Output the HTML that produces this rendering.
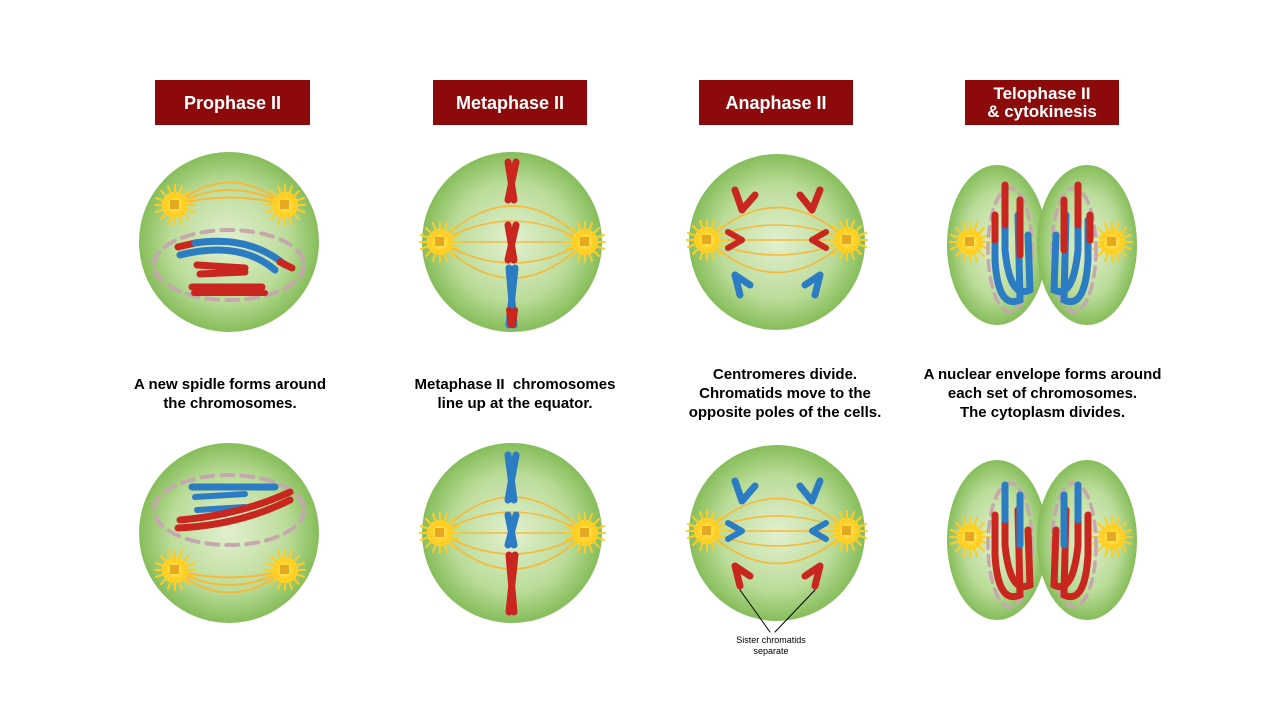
<!DOCTYPE html>
<html><head><meta charset="utf-8"><style>
html,body{margin:0;padding:0;background:#fff;width:1280px;height:720px;overflow:hidden}
.t{position:absolute;background:#8c0a0a;color:#fff;font:bold 18px "Liberation Sans",sans-serif;text-align:center;display:flex;align-items:center;justify-content:center;line-height:18px}
.c{position:absolute;font:bold 15px "Liberation Sans",sans-serif;text-align:center;color:#000;line-height:19px}
</style></head><body>
<div class="t" style="left:155px;top:80px;width:155px;height:45px">Prophase II</div>
<div class="t" style="left:433px;top:80px;width:154px;height:45px">Metaphase II</div>
<div class="t" style="left:699px;top:80px;width:154px;height:45px">Anaphase II</div>
<div class="t" style="left:965px;top:80px;width:154px;height:45px;font-size:17px">Telophase II<br>&amp; cytokinesis</div>
<div class="c" style="left:110px;top:375px;width:240px">A new spidle forms around<br>the chromosomes.</div>
<div class="c" style="left:395px;top:375px;width:240px">Metaphase II &nbsp;chromosomes<br>line up at the equator.</div>
<div class="c" style="left:670px;top:365px;width:230px">Centromeres divide.<br>Chromatids move to the<br>opposite poles of the cells.</div>
<div class="c" style="left:905px;top:365px;width:275px">A nuclear envelope forms around<br>each set of chromosomes.<br>The cytoplasm divides.</div>
<svg width="1280" height="720" style="position:absolute;left:0;top:0">
<defs>
<radialGradient id="g" cx="50%" cy="50%" r="50%"><stop offset="0" stop-color="#e2f0cf"/><stop offset="0.65" stop-color="#bcdc9a"/><stop offset="1" stop-color="#86bd5a"/></radialGradient>
<radialGradient id="s"><stop offset="0" stop-color="#fff7a0"/><stop offset="0.55" stop-color="#ffd83a"/><stop offset="1" stop-color="#ffc800" stop-opacity="0"/></radialGradient>
<g id="sun"><circle r="13" fill="#ffd430"/><g stroke="#ffcc22" stroke-width="2"><path d="M0 -20V20M-20 0H20M-14 -14L14 14M-14 14L14 -14M-7 -19L7 19M-19 -7L19 7M-19 7L19 -7M-7 19L7 -19"/></g><circle r="12" fill="url(#s)"/><rect x="-5" y="-5" width="9" height="9" fill="#e6a820"/></g>
</defs>
<g fill="none" stroke-linecap="round">
<circle cx="229" cy="242" r="90" fill="url(#g)"/>
<g stroke="#f6b93a" stroke-width="2"><path d="M175 205 Q229 160 285 205"/><path d="M175 205 Q229 175 285 205"/><path d="M175 205 Q229 190 285 205"/></g>
<use href="#sun" x="175" y="205"/><use href="#sun" x="285" y="205"/>
<g stroke="#c4a8ae" stroke-width="4" stroke-dasharray="12 8"><ellipse cx="229" cy="265" rx="75" ry="35"/></g>
<path d="M178 247 L195 243" stroke="#c8261e" stroke-width="7"/><path d="M195 243 Q250 235 285 265" stroke="#2c7cc4" stroke-width="7"/><path d="M280 262 L292 268" stroke="#c8261e" stroke-width="7"/>
<path d="M180 255 Q240 240 275 270" stroke="#2c7cc4" stroke-width="7"/>
<path d="M197 265 L245 268" stroke="#c8261e" stroke-width="7"/><path d="M200 274 L245 272" stroke="#c8261e" stroke-width="7"/>
<path d="M192 287 L262 287" stroke="#c8261e" stroke-width="7"/><path d="M194 293 L265 293" stroke="#c8261e" stroke-width="6"/>
<circle cx="229" cy="533" r="90" fill="url(#g)"/>
<g stroke="#f6b93a" stroke-width="2"><path d="M175 570 Q229 615 285 570"/><path d="M175 570 Q229 600 285 570"/><path d="M175 570 Q229 585 285 570"/></g>
<use href="#sun" x="175" y="570"/><use href="#sun" x="285" y="570"/>
<g stroke="#c4a8ae" stroke-width="4" stroke-dasharray="12 8"><ellipse cx="229" cy="510" rx="75" ry="35"/></g>
<path d="M192 487 L275 487" stroke="#2c7cc4" stroke-width="7"/><path d="M195 497 L245 494" stroke="#2c7cc4" stroke-width="6"/>
<path d="M197 510 L245 507" stroke="#2c7cc4" stroke-width="6"/>
<path d="M178 528 Q240 525 290 500" stroke="#c8261e" stroke-width="7"/><path d="M180 520 Q240 515 290 492" stroke="#c8261e" stroke-width="7"/>
<g id="meta">
<circle cx="512" cy="242" r="90" fill="url(#g)"/>
<g stroke="#f6b93a" stroke-width="1.6"><path d="M440 242 L585 242"/><path d="M440 242 Q512 170 585 242"/><path d="M440 242 Q512 314 585 242"/><path d="M440 242 Q512 200 585 242"/><path d="M440 242 Q512 284 585 242"/></g>
<use href="#sun" x="440" y="242"/><use href="#sun" x="585" y="242"/>
</g>
<path d="M508 162 L514 200 M516 162 L508 200" stroke="#c8261e" stroke-width="7"/>
<path d="M508 225 L514 260 M516 225 L508 260" stroke="#c8261e" stroke-width="7"/>
<path d="M509 268 L514 325 M515 268 L509 325" stroke="#2c7cc4" stroke-width="7"/>
<path d="M509 310 L511 325 M515 310 L513 325" stroke="#c8261e" stroke-width="6"/>
<use href="#meta" y="291"/>
<path d="M508 455 L514 500 M516 455 L508 500" stroke="#2c7cc4" stroke-width="7"/>
<path d="M508 515 L514 545 M516 515 L508 545" stroke="#2c7cc4" stroke-width="7"/>
<path d="M509 555 L514 612 M515 555 L509 612" stroke="#c8261e" stroke-width="7"/>
<g id="ana">
<circle cx="777" cy="242" r="88" fill="url(#g)"/>
<g stroke="#f6b93a" stroke-width="1.6"><path d="M707 240 L847 240"/><path d="M707 240 Q777 175 847 240"/><path d="M707 240 Q777 305 847 240"/><path d="M707 240 Q777 210 847 240"/><path d="M707 240 Q777 270 847 240"/></g>
<use href="#sun" x="707" y="240"/><use href="#sun" x="847" y="240"/>
</g>
<path d="M742 210 L735 190 M742 210 L755 195 M812 210 L820 190 M812 210 L800 195" stroke="#c8261e" stroke-width="7"/>
<path d="M742 240 L728 232 M742 240 L728 248 M812 240 L826 232 M812 240 L826 248" stroke="#c8261e" stroke-width="6"/>
<path d="M735 275 L740 295 M735 275 L750 285 M820 275 L815 295 M820 275 L805 285" stroke="#2c7cc4" stroke-width="7"/>
<use href="#ana" y="291"/>
<path d="M742 501 L735 481 M742 501 L755 486 M812 501 L820 481 M812 501 L800 486" stroke="#2c7cc4" stroke-width="7"/>
<path d="M742 531 L728 523 M742 531 L728 539 M812 531 L826 523 M812 531 L826 539" stroke="#2c7cc4" stroke-width="6"/>
<path d="M735 566 L740 586 M735 566 L750 576 M820 566 L815 586 M820 566 L805 576" stroke="#c8261e" stroke-width="7"/>
<path d="M740 590 L770 632 M815 590 L775 632" stroke="#000" stroke-width="1"/>
<g id="telo">
<ellipse cx="997" cy="245" rx="50" ry="80" fill="url(#g)"/>
<ellipse cx="1087" cy="245" rx="50" ry="80" fill="url(#g)"/>
<use href="#sun" x="970" y="242"/><use href="#sun" x="1112" y="242"/>
<g stroke="#c4a8ae" stroke-width="3.5" stroke-dasharray="10 7"><ellipse cx="1010" cy="250" rx="22" ry="62"/><ellipse cx="1074" cy="250" rx="22" ry="62"/></g>
</g>
<path d="M995 220 L995 260 Q998 310 1020 300 L1018 215" stroke="#2c7cc4" stroke-width="7"/>
<path d="M1005 215 L1005 250 Q1010 300 1030 290 L1028 235" stroke="#2c7cc4" stroke-width="7"/>
<path d="M995 215 L995 240 M1005 185 L1005 225 M1020 200 L1020 255" stroke="#c8261e" stroke-width="7"/>
<path d="M1088 220 L1088 260 Q1085 310 1064 300 L1066 215" stroke="#2c7cc4" stroke-width="7"/>
<path d="M1078 215 L1078 250 Q1073 300 1054 290 L1056 235" stroke="#2c7cc4" stroke-width="7"/>
<path d="M1064 200 L1064 250 M1078 185 L1078 225 M1090 215 L1090 240" stroke="#c8261e" stroke-width="7"/>
<use href="#telo" y="295"/>
<path d="M995 515 L995 555 Q998 605 1020 595 L1018 510" stroke="#c8261e" stroke-width="7"/>
<path d="M1005 510 L1005 545 Q1010 595 1030 585 L1028 530" stroke="#c8261e" stroke-width="7"/>
<path d="M1005 485 L1005 520 M1020 495 L1020 545" stroke="#2c7cc4" stroke-width="7"/>
<path d="M1088 515 L1088 555 Q1085 605 1064 595 L1066 510" stroke="#c8261e" stroke-width="7"/>
<path d="M1078 510 L1078 545 Q1073 595 1054 585 L1056 530" stroke="#c8261e" stroke-width="7"/>
<path d="M1064 495 L1064 545 M1078 485 L1078 520" stroke="#2c7cc4" stroke-width="7"/>
</g>
<text x="771" y="643" font-family="Liberation Sans,sans-serif" font-size="9" text-anchor="middle">Sister chromatids</text>
<text x="771" y="654" font-family="Liberation Sans,sans-serif" font-size="9" text-anchor="middle">separate</text>
</svg>
</body></html>
